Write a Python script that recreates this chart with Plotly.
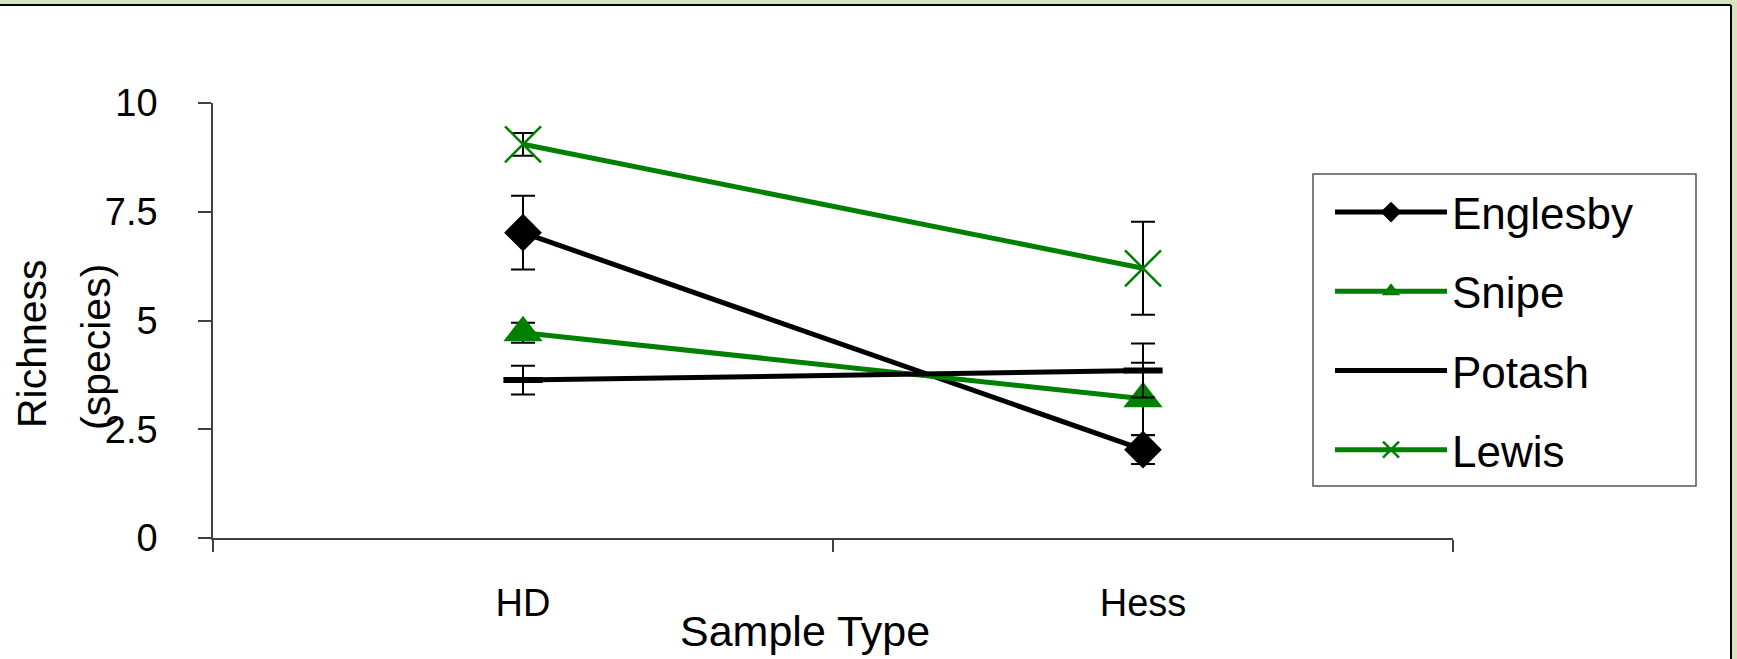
import plotly.graph_objects as go

# ---- data ----
categories = ["HD", "Hess"]
series_names = ["Englesby", "Snipe", "Potash", "Lewis"]
englesby = [7.02, 2.03]
englesby_err = [0.85, 0.33]
snipe = [4.72, 3.20]
snipe_err = [0.23, 0.83]
potash = [3.63, 3.85]
potash_err = [0.33, 0.62]
lewis = [9.05, 6.20]
lewis_err = [0.26, 1.07]
y_tick_vals = [0, 2.5, 5, 7.5, 10]
y_tick_text = ["0", "2.5", "5", "7.5", "10"]

GREEN = "#008000"
BLACK = "#000000"
SLIDE = "#D7E4BD"
FONT = "Arial, Liberation Sans, sans-serif"

W, H = 1737, 659
L, R, T, B = 213, 284, 103, 121
PW, PH = W - L - R, H - T - B

def px_x(px):
    return (px - L) / PW

def px_y(py):
    return (H - B - py) / PH

styles = [
    dict(color=BLACK, marker=dict(symbol="diamond", size=29, color=BLACK)),
    dict(color=GREEN, marker=dict(symbol="triangle-up", size=34, color=GREEN)),
    dict(color=BLACK, marker=dict(symbol="line-ew", size=28, color=BLACK,
                                  line=dict(width=6, color=BLACK))),
    dict(color=GREEN, marker=dict(symbol="x-thin", size=36, color=GREEN,
                                  line=dict(width=2.5, color=GREEN))),
]
values = [englesby, snipe, potash, lewis]
errors = [englesby_err, snipe_err, potash_err, lewis_err]

fig = go.Figure()
for name, vals, errs, st in zip(series_names, values, errors, styles):
    fig.add_trace(go.Scatter(
        x=categories, y=vals, name=name, mode="lines+markers",
        line=dict(color=st["color"], width=5),
        marker=st["marker"],
        error_y=dict(type="data", array=errs, visible=True,
                     color=BLACK, thickness=2, width=12),
        legendgroup=name,
    ))

fig.update_layout(
    width=W, height=H, autosize=False,
    margin=dict(l=L, r=R, t=T, b=B, pad=0, autoexpand=False),
    paper_bgcolor="white",
    plot_bgcolor="rgba(0,0,0,0)",
    font=dict(family=FONT, color=BLACK),
    showlegend=True,
    legend=dict(
        x=px_x(1330), y=px_y(331), xanchor="left", yanchor="middle",
        bgcolor="rgba(0,0,0,0)", borderwidth=0,
        font=dict(size=44, family=FONT, color=BLACK),
        traceorder="grouped", tracegroupgap=19, itemwidth=112,
    ),
    xaxis=dict(
        type="category", categoryorder="array", categoryarray=categories,
        range=[-0.5, 1.5], tickson="boundaries",
        showline=True, linecolor="#404040", linewidth=1.5,
        ticks="outside", ticklen=12, tickcolor="#404040", tickwidth=1.5,
        showgrid=False, zeroline=False,
        tickfont=dict(size=38, family=FONT, color=BLACK),
        ticklabelstandoff=31,
    ),
    yaxis=dict(
        range=[0, 10], tickvals=y_tick_vals, ticktext=y_tick_text,
        showline=True, linecolor="#404040", linewidth=1.5,
        ticks="outside", ticklen=13, tickcolor="#404040", tickwidth=1.5,
        showgrid=False, zeroline=False,
        tickfont=dict(size=38, family=FONT, color=BLACK),
        ticklabelstandoff=33,
    ),
    shapes=[
        # slide background band at the top
        dict(type="rect", xref="paper", yref="paper",
             x0=px_x(-20), x1=px_x(1760), y0=px_y(5), y1=px_y(-20),
             fillcolor=SLIDE, line=dict(width=0), layer="below"),
        # slide background band at the right
        dict(type="rect", xref="paper", yref="paper",
             x0=px_x(1731), x1=px_x(1760), y0=px_y(700), y1=px_y(-20),
             fillcolor=SLIDE, line=dict(width=0), layer="below"),
        # chart frame edges
        dict(type="line", xref="paper", yref="paper",
             x0=px_x(-20), x1=px_x(1731), y0=px_y(5), y1=px_y(5),
             line=dict(color=BLACK, width=2), layer="below"),
        dict(type="line", xref="paper", yref="paper",
             x0=px_x(1731), x1=px_x(1731), y0=px_y(700), y1=px_y(5),
             line=dict(color=BLACK, width=2), layer="below"),
        # legend frame
        dict(type="rect", xref="paper", yref="paper",
             x0=px_x(1313), x1=px_x(1696), y0=px_y(486), y1=px_y(174),
             fillcolor="white", line=dict(color="#555555", width=1.5),
             layer="below"),
    ],
    annotations=[
        dict(text="Sample Type", xref="paper", yref="paper",
             x=px_x(805), y=px_y(631), xanchor="center", yanchor="middle",
             showarrow=False, font=dict(size=43, family=FONT, color=BLACK)),
        dict(text="Richness", xref="paper", yref="paper",
             x=px_x(32), y=px_y(344), xanchor="center", yanchor="middle",
             textangle=-90, showarrow=False,
             font=dict(size=41, family=FONT, color=BLACK)),
        dict(text="(species)", xref="paper", yref="paper",
             x=px_x(96), y=px_y(347), xanchor="center", yanchor="middle",
             textangle=-90, showarrow=False,
             font=dict(size=41, family=FONT, color=BLACK)),
    ],
)

fig.write_html(
    "out.html",
    config={"displayModeBar": False},
    post_script="document.body.style.margin='0px';document.body.style.overflow='hidden';",
)
